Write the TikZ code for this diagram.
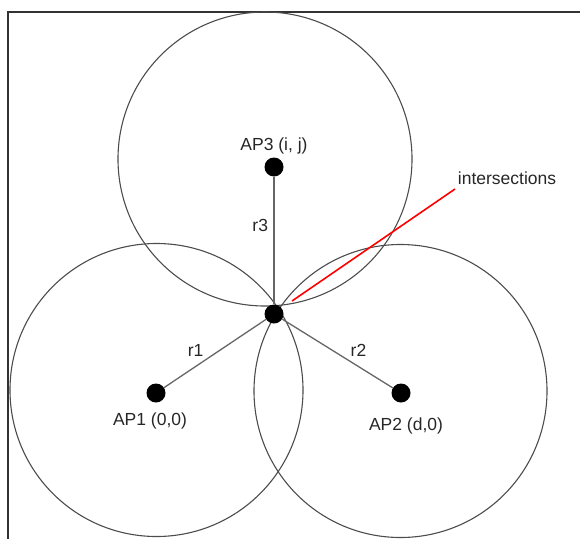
\documentclass[tikz,border=0pt]{standalone}
\usepackage{fontspec}
\setmainfont{Liberation Sans}
\begin{document}
\begin{tikzpicture}[x=1pt,y=-1pt,
    apdot/.style={circle,fill=black,inner sep=0pt,minimum size=19pt},
    ring/.style={draw=black!70,line width=1.1pt},
    spoke/.style={draw=black!60,line width=1.3pt},
    txt/.style={font=\fontsize{17.5}{20}\selectfont,text=black!85},
    every label/.style={txt}
    ]
\useasboundingbox (0,0) rectangle (580,539);
% frame
\draw[line width=2pt,black!80] (580,12) -- (8,12) -- (8,539);

% range circles
\draw[ring] (265,159) circle (147);
\draw[ring] (156.5,390) circle (146.5);
\draw[ring] (400.5,391) circle (146.5);

% access points and the unknown position
\node[apdot, label={[label distance=0pt]above:AP3 (i, j)}] (ap3) at (274,167) {};
\node[apdot, label={[label distance=7pt,xshift=-6pt]below:AP1 (0,0)}] (ap1) at (156,393) {};
\node[apdot, label={[label distance=12pt,xshift=5pt]below:AP2 (d,0)}] (ap2) at (401,393) {};
\node[apdot] (pos) at (274,314) {};

\draw[spoke] (ap3) -- node[txt,pos=0.38,left=2pt] (r3) {r3} (pos);
\draw[spoke] (pos) -- node[txt,pos=0.69,above=6pt] (r1) {r1} (ap1);
\draw[spoke] (pos) -- node[txt,pos=0.69,above=6pt] (r2) {r2} (ap2);

% pointer to the intersections
\node[txt] (isect) at (507,178) {intersections};
\coordinate (tip) at (292,301);
\coordinate (tail) at (455,189);
\draw[red,line width=1.6pt] (tip) -- (tail);

\end{tikzpicture}
\end{document}
